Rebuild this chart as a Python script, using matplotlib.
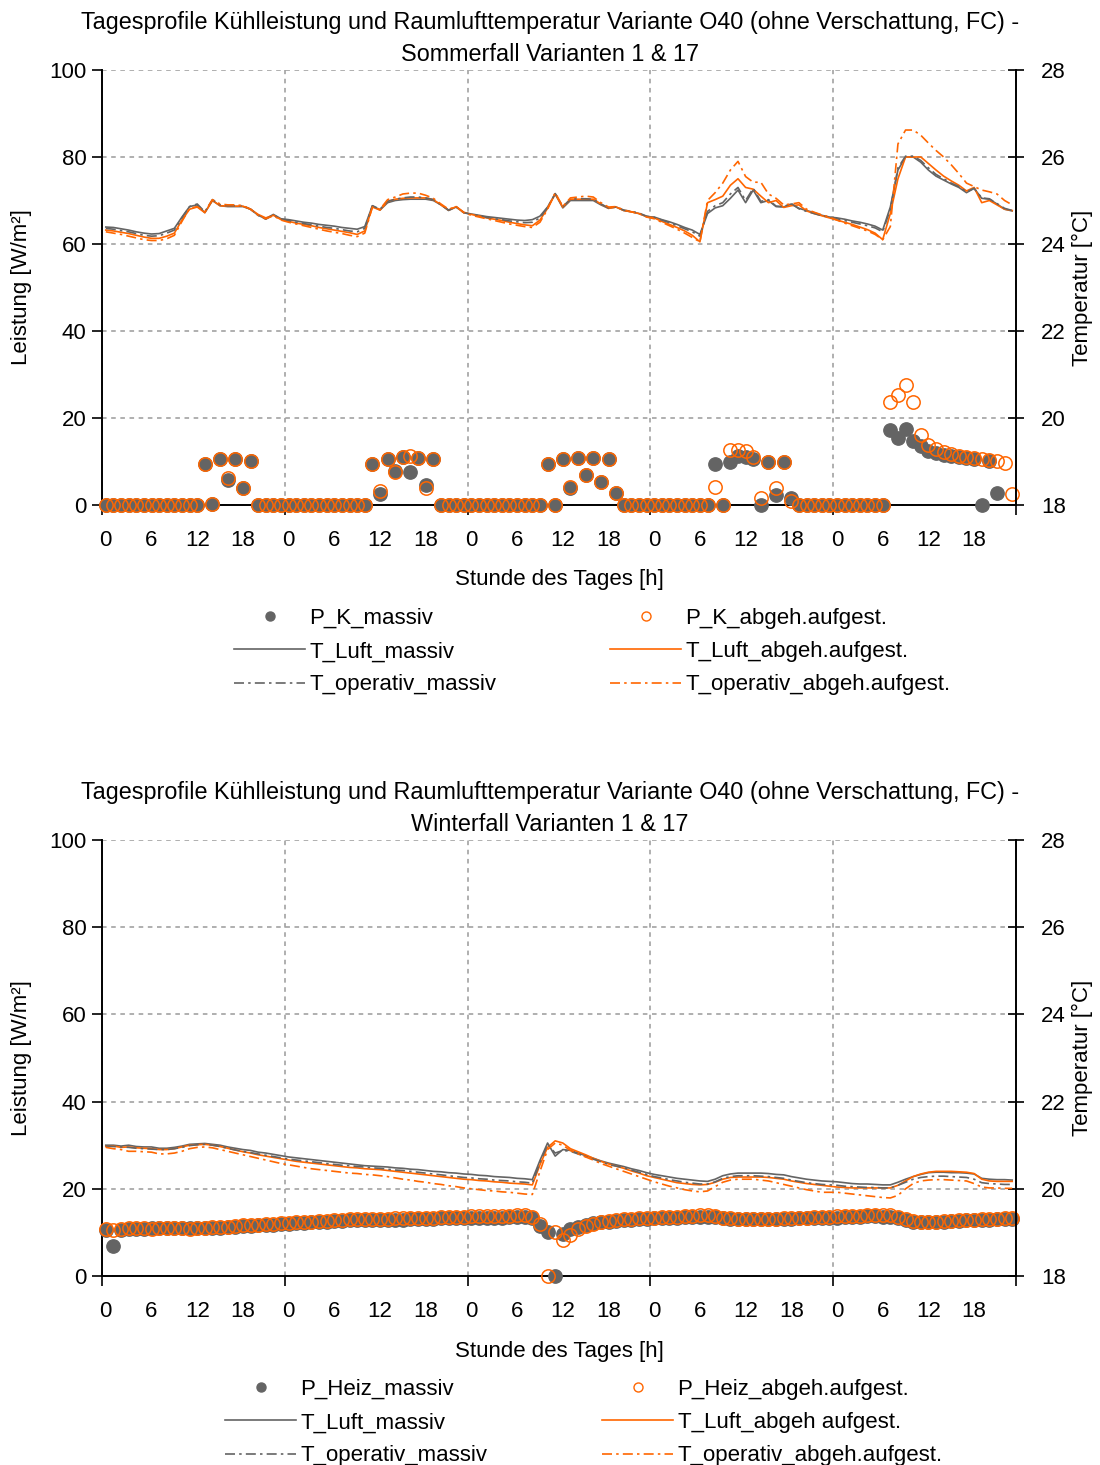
import numpy as np
import matplotlib
matplotlib.use("Agg")
import matplotlib.pyplot as plt
from matplotlib.lines import Line2D

plt.rcParams['font.family'] = ['Liberation Sans', 'DejaVu Sans']

nan = np.nan
hours = np.arange(120)
tick_labels = ["0", "6", "12", "18"] * 5

# ---------------- Sommerfall (top) ----------------
title_top = "Tagesprofile Kühlleistung und Raumlufttemperatur Variante O40 (ohne Verschattung, FC) -\nSommerfall Varianten 1 & 17"

p_k_massiv = [
    0, 0, 0, 0, 0, 0, 0, 0, 0, 0, 0, 0, 0, 9.5, 0.3, 10.5, 5.8, 10.5, 4.0, 10.2, 0, 0, 0, 0,
    0, 0, 0, 0, 0, 0, 0, 0, 0, 0, 0, 9.5, 2.5, 10.5, 7.8, 11.0, 7.6, 10.8, 4.5, 10.5, 0, 0, 0, 0,
    0, 0, 0, 0, 0, 0, 0, 0, 0, 0, 9.5, 0, 10.5, 3.8, 10.8, 6.9, 10.8, 5.3, 10.5, 2.7, 0, 0, 0, 0,
    0, 0, 0, 0, 0, 0, 0, 0, 9.5, 0, 9.8, 11.3, 11.0, 10.5, 0, 10.0, 2.2, 9.8, 1.5, 0, 0, 0, 0, 0,
    0, 0, 0, 0, 0, 0, 0, 17.2, 15.5, 17.5, 14.8, 13.5, 12.5, 12.0, 11.5, 11.3, 11.0, 10.8, 10.6, 0, 10.2, 2.8, nan, nan]
p_k_abgeh = [
    0, 0, 0, 0, 0, 0, 0, 0, 0, 0, 0, 0, 0, 9.5, 0.3, 10.5, 6.2, 10.5, 4.0, 10.2, 0, 0, 0, 0,
    0, 0, 0, 0, 0, 0, 0, 0, 0, 0, 0, 9.5, 3.2, 10.5, 7.5, 11.0, 11.2, 10.8, 3.8, 10.5, 0, 0, 0, 0,
    0, 0, 0, 0, 0, 0, 0, 0, 0, 0, 9.5, 0, 10.5, 4.2, 10.8, 6.9, 10.8, 5.3, 10.5, 2.7, 0, 0, 0, 0,
    0, 0, 0, 0, 0, 0, 0, 0, 4.2, 0, 12.6, 12.7, 12.3, 11.0, 1.6, 10.0, 3.9, 9.8, 1.0, 0, 0, 0, 0, 0,
    0, 0, 0, 0, 0, 0, 0, 23.7, 25.3, 27.6, 23.7, 16.1, 13.7, 12.8, 12.2, 11.7, 11.3, 11.0, 10.8, 10.6, 10.4, 10.2, 9.7, 2.5]

t_luft_massiv_s = [
    24.39, 24.38, 24.35, 24.32, 24.28, 24.25, 24.23, 24.24, 24.30, 24.36, 24.62, 24.86, 24.90, 24.72, 25.00, 24.88, 24.86, 24.86, 24.86, 24.80, 24.66, 24.58, 24.68, 24.58,
    24.56, 24.53, 24.50, 24.48, 24.45, 24.43, 24.41, 24.38, 24.36, 24.34, 24.40, 24.88, 24.78, 24.95, 25.00, 25.02, 25.03, 25.03, 25.03, 25.00, 24.90, 24.77, 24.85, 24.72,
    24.69, 24.66, 24.63, 24.61, 24.59, 24.57, 24.55, 24.54, 24.56, 24.64, 24.85, 25.15, 24.83, 25.00, 25.00, 25.00, 25.00, 24.90, 24.82, 24.85, 24.77, 24.74, 24.70, 24.63,
    24.62, 24.56, 24.51, 24.45, 24.38, 24.32, 24.22, 24.70, 24.83, 24.88, 25.05, 25.24, 24.95, 25.24, 24.95, 25.00, 24.86, 24.85, 24.92, 24.82, 24.77, 24.72, 24.66, 24.62,
    24.60, 24.57, 24.53, 24.50, 24.46, 24.41, 24.32, 24.85, 25.70, 26.00, 26.00, 25.88, 25.70, 25.56, 25.47, 25.38, 25.30, 25.18, 25.28, 25.05, 25.03, 24.92, 24.80, 24.76]
t_luft_abgeh_s = [
    24.32, 24.30, 24.27, 24.24, 24.20, 24.16, 24.13, 24.13, 24.18, 24.25, 24.55, 24.80, 24.85, 24.72, 25.00, 24.88, 24.87, 24.87, 24.87, 24.80, 24.68, 24.60, 24.66, 24.56,
    24.52, 24.48, 24.45, 24.42, 24.38, 24.35, 24.32, 24.29, 24.26, 24.22, 24.30, 24.85, 24.78, 24.98, 25.03, 25.05, 25.06, 25.06, 25.06, 25.02, 24.90, 24.78, 24.86, 24.73,
    24.68, 24.64, 24.60, 24.57, 24.54, 24.50, 24.47, 24.44, 24.42, 24.55, 24.82, 25.15, 24.85, 25.03, 25.03, 25.03, 25.03, 24.92, 24.82, 24.85, 24.77, 24.74, 24.70, 24.63,
    24.60, 24.52, 24.45, 24.38, 24.30, 24.20, 24.05, 24.95, 25.02, 25.10, 25.35, 25.50, 25.30, 25.26, 25.10, 24.95, 25.00, 24.84, 24.88, 24.90, 24.76, 24.70, 24.65, 24.60,
    24.55, 24.50, 24.45, 24.39, 24.33, 24.25, 24.10, 24.70, 25.50, 26.00, 26.00, 26.00, 25.85, 25.70, 25.56, 25.45, 25.35, 25.22, 25.30, 24.95, 25.00, 24.90, 24.80, 24.77]
t_op_massiv_s = [
    24.36, 24.34, 24.31, 24.28, 24.24, 24.20, 24.18, 24.19, 24.25, 24.32, 24.60, 24.86, 24.92, 24.74, 25.02, 24.90, 24.88, 24.88, 24.88, 24.80, 24.66, 24.57, 24.67, 24.57,
    24.54, 24.50, 24.47, 24.44, 24.41, 24.38, 24.36, 24.33, 24.30, 24.28, 24.36, 24.88, 24.80, 24.98, 25.03, 25.06, 25.08, 25.08, 25.06, 25.02, 24.90, 24.78, 24.85, 24.72,
    24.68, 24.65, 24.61, 24.58, 24.56, 24.53, 24.51, 24.49, 24.50, 24.60, 24.84, 25.16, 24.86, 25.03, 25.04, 25.04, 25.03, 24.92, 24.83, 24.85, 24.78, 24.75, 24.71, 24.64,
    24.61, 24.55, 24.49, 24.42, 24.35, 24.28, 24.18, 24.75, 24.88, 24.95, 25.15, 25.30, 25.00, 25.28, 24.98, 25.02, 24.87, 24.86, 24.93, 24.81, 24.75, 24.70, 24.65, 24.62,
    24.58, 24.54, 24.50, 24.46, 24.42, 24.37, 24.28, 24.80, 25.75, 26.02, 26.02, 25.92, 25.75, 25.60, 25.50, 25.40, 25.32, 25.20, 25.28, 25.06, 25.04, 24.93, 24.82, 24.77]
t_op_abgeh_s = [
    24.28, 24.25, 24.22, 24.18, 24.14, 24.10, 24.08, 24.08, 24.12, 24.20, 24.52, 24.82, 24.86, 24.74, 25.02, 24.92, 24.90, 24.90, 24.88, 24.80, 24.66, 24.58, 24.65, 24.55,
    24.50, 24.46, 24.42, 24.38, 24.34, 24.30, 24.27, 24.24, 24.20, 24.17, 24.25, 24.85, 24.80, 25.02, 25.08, 25.15, 25.17, 25.17, 25.12, 25.05, 24.92, 24.80, 24.86, 24.72,
    24.66, 24.62, 24.58, 24.54, 24.50, 24.46, 24.43, 24.40, 24.38, 24.50, 24.80, 25.18, 24.86, 25.06, 25.08, 25.10, 25.08, 24.95, 24.85, 24.86, 24.78, 24.74, 24.70, 24.62,
    24.58, 24.50, 24.42, 24.34, 24.25, 24.15, 24.05, 25.00, 25.18, 25.40, 25.70, 25.90, 25.55, 25.42, 25.42, 25.15, 25.05, 24.90, 24.92, 24.95, 24.80, 24.73, 24.67, 24.62,
    24.55, 24.48, 24.42, 24.36, 24.30, 24.22, 24.10, 24.40, 26.30, 26.62, 26.62, 26.50, 26.32, 26.15, 26.00, 25.82, 25.62, 25.40, 25.32, 25.24, 25.20, 25.15, 25.00, 24.90]

# ---------------- Winterfall (bottom) ----------------
title_bot = "Tagesprofile Kühlleistung und Raumlufttemperatur Variante O40 (ohne Verschattung, FC) -\nWinterfall Varianten 1 & 17"

p_heiz_massiv = [
    10.6, 6.9, 10.6, 10.7, 10.8, 10.8, 10.9, 10.9, 10.9, 10.9, 10.9, 10.9, 10.9, 11.0, 11.0, 11.1, 11.2, 11.3, 11.4, 11.5, 11.6, 11.7, 11.8, 11.9,
    12.0, 12.1, 12.2, 12.3, 12.4, 12.5, 12.6, 12.7, 12.8, 12.8, 12.8, 12.8, 12.8, 12.8, 12.9, 12.9, 13.0, 13.0, 13.1, 13.1, 13.2, 13.2, 13.3, 13.3,
    13.4, 13.4, 13.4, 13.4, 13.4, 13.5, 13.5, 13.5, 13.4, 11.5, 10.0, 0.0, 9.6, 10.8, 11.3, 11.8, 12.1, 12.3, 12.5, 12.7, 12.8, 12.9, 13.0, 13.1,
    13.2, 13.3, 13.3, 13.4, 13.5, 13.5, 13.6, 13.6, 13.5, 13.3, 13.1, 13.0, 13.0, 13.0, 13.0, 13.0, 13.0, 13.0, 13.1, 13.2, 13.2, 13.3, 13.3, 13.4,
    13.4, 13.5, 13.6, 13.6, 13.7, 13.7, 13.6, 13.5, 13.2, 12.8, 12.5, 12.4, 12.4, 12.4, 12.5, 12.6, 12.7, 12.8, 12.8, 12.9, 12.9, 13.0, 13.0, 13.0]
p_heiz_abgeh = [
    10.8, 10.5, 10.7, 10.9, 11.0, 10.9, 10.8, 11.0, 11.1, 11.0, 10.9, 10.8, 10.9, 11.1, 11.2, 11.3, 11.3, 11.5, 11.6, 11.7, 11.8, 11.9, 12.0, 12.1,
    12.2, 12.3, 12.4, 12.5, 12.6, 12.7, 12.8, 12.9, 13.0, 13.0, 13.0, 13.0, 13.1, 13.1, 13.2, 13.2, 13.3, 13.3, 13.4, 13.4, 13.5, 13.5, 13.6, 13.6,
    13.7, 13.7, 13.7, 13.8, 13.8, 13.8, 13.9, 13.9, 13.6, 12.0, 0.0, 10.0, 8.3, 9.5, 10.8, 11.5, 12.0, 12.4, 12.7, 12.9, 13.0, 13.1, 13.2, 13.3,
    13.4, 13.5, 13.5, 13.6, 13.7, 13.8, 13.9, 13.9, 13.7, 13.4, 13.2, 13.1, 13.0, 13.0, 13.1, 13.1, 13.1, 13.2, 13.3, 13.4, 13.4, 13.5, 13.5, 13.6,
    13.7, 13.7, 13.8, 13.8, 13.9, 14.0, 14.1, 14.0, 13.6, 13.1, 12.7, 12.5, 12.4, 12.5, 12.6, 12.7, 12.8, 12.9, 12.9, 13.0, 13.1, 13.1, 13.2, 13.2]

t_luft_massiv_w = [
    21.00, 21.00, 20.98, 21.00, 20.97, 20.96, 20.96, 20.93, 20.93, 20.95, 20.98, 21.02, 21.03, 21.04, 21.02, 21.00, 20.96, 20.93, 20.90, 20.88, 20.84, 20.82, 20.79, 20.76,
    20.73, 20.71, 20.69, 20.67, 20.65, 20.63, 20.61, 20.59, 20.57, 20.55, 20.53, 20.52, 20.51, 20.50, 20.48, 20.47, 20.45, 20.44, 20.42, 20.40, 20.39, 20.37, 20.36, 20.34,
    20.33, 20.31, 20.30, 20.28, 20.27, 20.26, 20.24, 20.23, 20.21, 20.65, 21.05, 20.75, 20.90, 20.88, 20.82, 20.76, 20.70, 20.64, 20.59, 20.55, 20.51, 20.46, 20.42, 20.37,
    20.33, 20.30, 20.27, 20.24, 20.22, 20.20, 20.18, 20.17, 20.22, 20.30, 20.34, 20.36, 20.36, 20.36, 20.36, 20.35, 20.33, 20.32, 20.28, 20.25, 20.22, 20.20, 20.18, 20.17,
    20.16, 20.14, 20.12, 20.11, 20.11, 20.10, 20.09, 20.09, 20.15, 20.22, 20.28, 20.33, 20.37, 20.38, 20.38, 20.37, 20.37, 20.36, 20.34, 20.24, 20.22, 20.21, 20.21, 20.20]
t_luft_abgeh_w = [
    20.97, 20.98, 20.95, 20.96, 20.94, 20.93, 20.92, 20.90, 20.90, 20.92, 20.96, 21.00, 21.01, 21.02, 21.00, 20.97, 20.93, 20.89, 20.85, 20.82, 20.78, 20.75, 20.72, 20.69,
    20.66, 20.63, 20.61, 20.59, 20.57, 20.55, 20.53, 20.51, 20.49, 20.48, 20.46, 20.45, 20.44, 20.42, 20.40, 20.38, 20.36, 20.34, 20.32, 20.30, 20.28, 20.26, 20.24, 20.22,
    20.21, 20.19, 20.18, 20.16, 20.15, 20.13, 20.12, 20.11, 20.09, 20.55, 20.95, 21.10, 21.05, 20.92, 20.85, 20.78, 20.70, 20.63, 20.57, 20.52, 20.47, 20.41, 20.36, 20.30,
    20.26, 20.22, 20.18, 20.14, 20.12, 20.10, 20.09, 20.10, 20.15, 20.22, 20.26, 20.27, 20.27, 20.27, 20.27, 20.26, 20.24, 20.22, 20.18, 20.15, 20.12, 20.10, 20.08, 20.06,
    20.04, 20.03, 20.02, 20.02, 20.02, 20.02, 20.02, 20.02, 20.08, 20.18, 20.28, 20.34, 20.38, 20.40, 20.40, 20.40, 20.39, 20.38, 20.35, 20.22, 20.18, 20.17, 20.17, 20.17]
t_op_massiv_w = [
    20.98, 20.97, 20.96, 20.95, 20.93, 20.92, 20.91, 20.90, 20.90, 20.92, 20.95, 20.99, 21.01, 21.02, 21.00, 20.97, 20.93, 20.89, 20.86, 20.83, 20.80, 20.77, 20.74, 20.71,
    20.68, 20.66, 20.64, 20.62, 20.60, 20.58, 20.56, 20.54, 20.53, 20.51, 20.50, 20.48, 20.47, 20.45, 20.43, 20.42, 20.40, 20.38, 20.36, 20.34, 20.32, 20.30, 20.28, 20.26,
    20.25, 20.23, 20.22, 20.20, 20.19, 20.18, 20.16, 20.15, 20.13, 20.60, 21.02, 20.82, 20.88, 20.86, 20.80, 20.74, 20.68, 20.62, 20.56, 20.52, 20.48, 20.43, 20.38, 20.33,
    20.28, 20.25, 20.21, 20.18, 20.15, 20.13, 20.11, 20.11, 20.16, 20.24, 20.28, 20.30, 20.30, 20.30, 20.29, 20.28, 20.26, 20.24, 20.20, 20.17, 20.14, 20.12, 20.10, 20.09,
    20.08, 20.06, 20.05, 20.04, 20.03, 20.03, 20.02, 20.02, 20.08, 20.15, 20.22, 20.26, 20.28, 20.29, 20.29, 20.28, 20.27, 20.26, 20.22, 20.14, 20.12, 20.11, 20.10, 20.10]
t_op_abgeh_w = [
    20.95, 20.92, 20.90, 20.86, 20.86, 20.85, 20.84, 20.80, 20.80, 20.82, 20.86, 20.92, 20.95, 20.96, 20.94, 20.90, 20.86, 20.82, 20.78, 20.74, 20.70, 20.66, 20.62, 20.58,
    20.55, 20.52, 20.49, 20.46, 20.44, 20.42, 20.40, 20.38, 20.36, 20.35, 20.33, 20.32, 20.30, 20.28, 20.25, 20.22, 20.20, 20.17, 20.15, 20.12, 20.10, 20.07, 20.05, 20.02,
    20.00, 19.98, 19.96, 19.95, 19.93, 19.92, 19.90, 19.88, 19.87, 20.40, 20.90, 21.05, 21.00, 20.88, 20.80, 20.73, 20.66, 20.58, 20.52, 20.46, 20.40, 20.34, 20.28, 20.22,
    20.16, 20.11, 20.06, 20.02, 19.98, 19.95, 19.93, 19.95, 20.05, 20.15, 20.20, 20.22, 20.22, 20.22, 20.20, 20.18, 20.14, 20.10, 20.06, 20.02, 19.98, 19.95, 19.92, 19.92,
    19.92, 19.90, 19.88, 19.86, 19.84, 19.82, 19.80, 19.79, 19.85, 20.00, 20.12, 20.18, 20.20, 20.21, 20.21, 20.20, 20.19, 20.18, 20.12, 20.04, 20.02, 20.02, 20.01, 20.01]

labels_top = ["P_K_massiv", "P_K_abgeh.aufgest.", "T_Luft_massiv", "T_Luft_abgeh.aufgest.",
              "T_operativ_massiv", "T_operativ_abgeh.aufgest."]
labels_bot = ["P_Heiz_massiv", "P_Heiz_abgeh.aufgest.", "T_Luft_massiv", "T_Luft_abgeh aufgest.",
              "T_operativ_massiv", "T_operativ_abgeh.aufgest."]

GRAY = "#646464"
ORANGE = "#FF6600"
GRID = "#9a9a9a"
FS = 16
DASHDOT = (6, 2.5, 1.5, 2.5)

W, H = 1100, 1465
fig = plt.figure(figsize=(W / 100, H / 100), dpi=100)


def fx(px):
    return px / W


def fy(py):
    return 1 - py / H


def panel(top_px, bot_px, p_m, p_a, tl_m, tl_a, to_m, to_a, title, labels, leg_pos):
    ax = fig.add_axes([fx(102), fy(bot_px), fx(1016) - fx(102), (bot_px - top_px) / H])
    ax.set_xlim(-0.5, 119.5)
    ax.set_ylim(0, 100)
    ax.set_yticks([0, 20, 40, 60, 80, 100])
    ax.set_xticks([-0.5, 23.5, 47.5, 71.5, 95.5, 119.5])
    ax.set_xticklabels([])
    ax.set_xticks([d * 24 + h for d in range(5) for h in (0, 6, 12, 18)], minor=True)
    ax.set_xticklabels(tick_labels, minor=True)
    ax.tick_params(axis='x', which='major', direction='out', length=7, width=1.2, color='black')
    ax.tick_params(axis='x', which='minor', length=0, pad=18, labelsize=FS)
    ax.tick_params(axis='y', direction='out', length=7, width=1.2, labelsize=FS, pad=4)
    ax.grid(True, which='major', color=GRID, linestyle=(0, (3, 3)), linewidth=1.1)
    for s in ('top', 'right'):
        ax.spines[s].set_visible(False)
    for s in ('left', 'bottom'):
        ax.spines[s].set_linewidth(1.4)
        ax.spines[s].set_color('black')
    ax.set_axisbelow(True)

    ax.plot(hours, p_m, linestyle='none', marker='o', ms=9.6, color=GRAY, mec=GRAY, clip_on=False, zorder=3)
    ax.plot(hours, p_a, linestyle='none', marker='o', ms=9.6, mfc='none', mec=ORANGE, mew=1.1, clip_on=False, zorder=4)

    ax2 = ax.twinx()
    ax2.set_ylim(18, 28)
    ax2.set_yticks([18, 20, 22, 24, 26, 28])
    ax2.tick_params(axis='y', direction='inout', length=12, width=1.2, labelsize=FS, pad=12)
    for s in ('top', 'left', 'bottom'):
        ax2.spines[s].set_visible(False)
    ax2.spines['right'].set_linewidth(1.4)
    ax2.spines['right'].set_color('black')
    ax2.plot(hours, tl_m, color=GRAY, lw=1.2)
    ax2.plot(hours, tl_a, color=ORANGE, lw=1.2)
    ax2.plot(hours, to_m, color=GRAY, lw=1.2, dashes=DASHDOT)
    ax2.plot(hours, to_a, color=ORANGE, lw=1.2, dashes=DASHDOT)

    fig.text(0.5, fy(top_px - 59), title, ha='center', va='top', fontsize=16.8, linespacing=1.5)
    mid = (top_px + bot_px) / 2
    fig.text(fx(22), fy(mid), "Leistung [W/m²]", rotation=90, ha='center', va='center', fontsize=FS)
    fig.text(fx(1082), fy(mid), "Temperatur [°C]", rotation=90, ha='center', va='center', fontsize=FS)
    fig.text(fx(559), fy(bot_px + 75), "Stunde des Tages [h]", ha='center', va='center', fontsize=FS)

    h_pm = Line2D([], [], linestyle='none', marker='o', ms=6.5, color=GRAY, mec=GRAY)
    h_pa = Line2D([], [], linestyle='none', marker='o', ms=6.5, mfc='none', mec=ORANGE, mew=1.0)
    h_lm = Line2D([], [], color=GRAY, lw=1.2)
    h_la = Line2D([], [], color=ORANGE, lw=1.2)
    h_om = Line2D([], [], color=GRAY, lw=1.2, dashes=DASHDOT)
    h_oa = Line2D([], [], color=ORANGE, lw=1.2, dashes=DASHDOT)
    kw = dict(loc='upper left', frameon=False, fontsize=FS, handlelength=3.2, handletextpad=0.2,
              labelspacing=0.55, borderpad=0, borderaxespad=0, bbox_transform=fig.transFigure)
    fig.legend([h_pm, h_lm, h_om], [labels[0], labels[2], labels[4]],
               bbox_to_anchor=(fx(leg_pos[0]), fy(leg_pos[2])), **kw)
    fig.legend([h_pa, h_la, h_oa], [labels[1], labels[3], labels[5]],
               bbox_to_anchor=(fx(leg_pos[1]), fy(leg_pos[2])), **kw)
    return ax, ax2


panel(70, 505, p_k_massiv, p_k_abgeh, t_luft_massiv_s, t_luft_abgeh_s, t_op_massiv_s, t_op_abgeh_s,
      title_top, labels_top, (234, 610, 608))
panel(840, 1276, p_heiz_massiv, p_heiz_abgeh, t_luft_massiv_w, t_luft_abgeh_w, t_op_massiv_w, t_op_abgeh_w,
      title_bot, labels_bot, (225, 602, 1379))

fig.savefig("out.png", dpi=100)
